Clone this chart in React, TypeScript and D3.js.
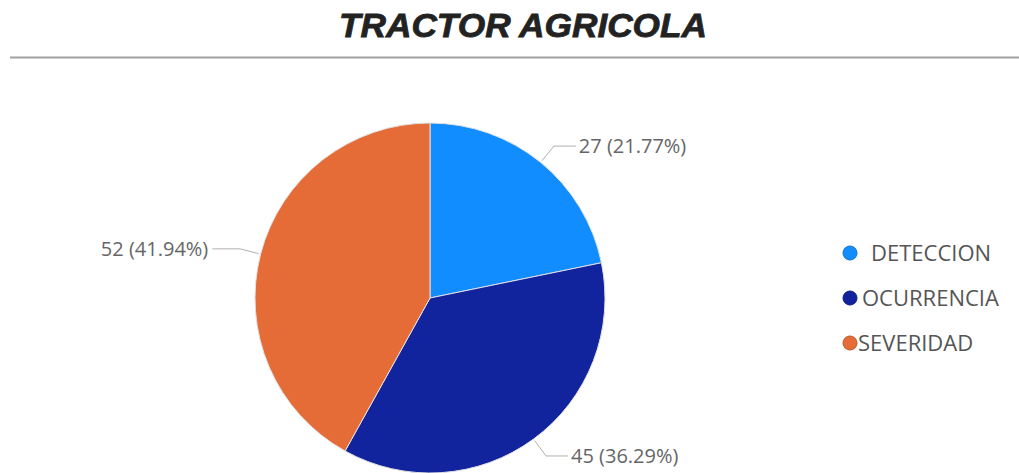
import React from "react";
import * as d3 from "d3";

const categories = ["DETECCION", "OCURRENCIA", "SEVERIDAD"];
const values = [27, 45, 52];
const colors = ["#118DFF", "#12239E", "#E66C37"];
const title = "TRACTOR AGRICOLA";

const W = 1019;
const H = 473;
const cx = 430;
const cy = 298;
const R = 175;

export default function App() {
  const total = d3.sum(values);
  const pie = d3.pie<number>().sort(null).value((d) => d);
  const arcs = pie(values);
  const arcGen = d3.arc<d3.PieArcDatum<number>>().innerRadius(0).outerRadius(R);
  const fmt = d3.format(".2f");

  return (
    <svg width={W} height={H} style={{ position: "absolute", left: 0, top: 0, background: "#fff" }}>
      <text
        x={523}
        y={37}
        textAnchor="middle"
        fontFamily="'Liberation Sans', Arial, sans-serif"
        fontWeight="bold"
        fontStyle="italic"
        fontSize={34}
        fill="#222"
        stroke="#222"
        strokeWidth={0.8}
        textLength={368}
        lengthAdjust="spacingAndGlyphs"
      >
        {title}
      </text>
      <line x1={10} x2={W} y1={57.5} y2={57.5} stroke="#a0a0a0" strokeWidth={2} />
      <g transform={`translate(${cx},${cy})`}>
        {arcs.map((a, i) => (
          <path key={i} d={arcGen(a) || ""} fill={colors[i]} stroke="#e0e0e0" strokeWidth={1} />
        ))}
        {arcs.map((a, i) => {
          const mid = (a.startAngle + a.endAngle) / 2;
          const s = Math.sin(mid);
          const c = -Math.cos(mid);
          const p0 = [s * (R + 2), c * (R + 2)];
          const p1 = [s * (R + 21), c * (R + 21)];
          const right = s > 0;
          const p2 = [p1[0] + (right ? 22 : -28), p1[1]];
          const label = `${values[i]} (${fmt((values[i] / total) * 100)}%)`;
          return (
            <g key={"l" + i}>
              <polyline
                points={[p0, p1, p2].map((p) => p.join(",")).join(" ")}
                fill="none"
                stroke="#b0b0b0"
                strokeWidth={1}
              />
              <text
                x={p2[0] + (right ? 3 : -4)}
                y={p2[1]}
                dy="0.35em"
                textAnchor={right ? "start" : "end"}
                fontFamily="'Open Sans', sans-serif"
                fontSize={20}
                fill="#666"
              >
                {label}
              </text>
            </g>
          );
        })}
      </g>
      <g>
        {categories.map((cat, i) => (
          <g key={cat} transform={`translate(850,${253 + i * 45})`}>
            <circle r={7} fill={colors[i]} stroke={d3.color(colors[i])!.darker(0.6).toString()} strokeWidth={1} />
            <text
              x={i === 0 ? 21 : i === 1 ? 12 : 8}
              y={0}
              dy="0.35em"
              fontFamily="'Open Sans', sans-serif"
              fontSize={22}
              fill="#555"
            >
              {cat}
            </text>
          </g>
        ))}
      </g>
    </svg>
  );
}
